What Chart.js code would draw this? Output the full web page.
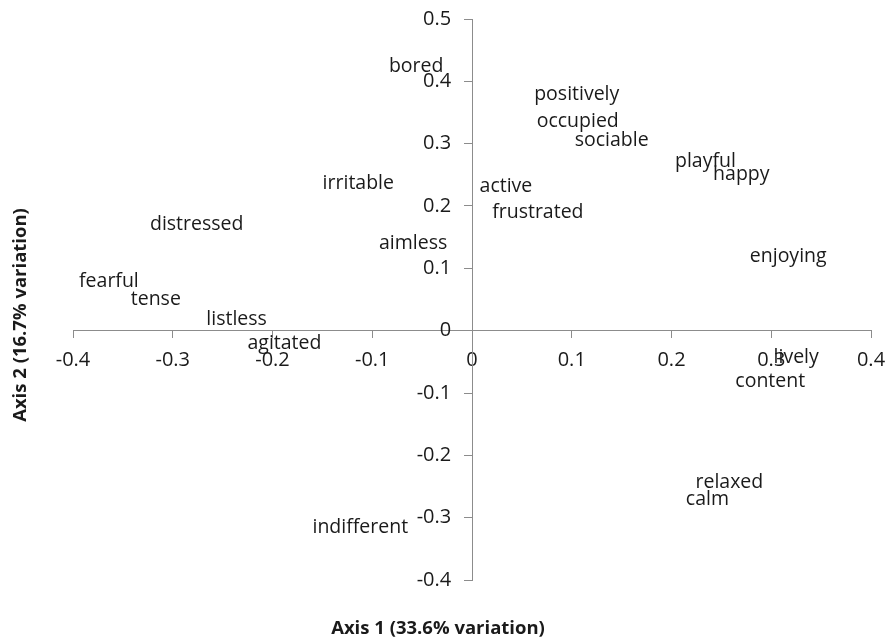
<!DOCTYPE html>
<html><head><meta charset="utf-8">
<script src="https://cdn.jsdelivr.net/npm/chart.js@4/dist/chart.umd.min.js"></script>
<style>html,body{margin:0;padding:0;background:#fff}#wrap{width:886px;height:639px;position:relative}</style>
</head><body><div id="wrap"><canvas id="c"></canvas></div>
<script>
const labels = ["bored","positively","occupied","sociable","playful","happy","irritable","active","frustrated","distressed","aimless","enjoying","fearful","tense","listless","agitated","lively","content","relaxed","calm","indifferent"];
const axis1 = [-0.056,0.105,0.106,0.140,0.234,0.270,-0.114,0.034,0.066,-0.276,-0.059,0.317,-0.364,-0.317,-0.236,-0.188,0.325,0.299,0.258,0.236,-0.112];
const axis2 = [0.424,0.379,0.335,0.305,0.271,0.250,0.236,0.231,0.189,0.170,0.140,0.119,0.079,0.050,0.018,-0.021,-0.043,-0.082,-0.244,-0.271,-0.315];
const xTitle = "Axis 1 (33.6% variation)";
const yTitle = "Axis 2 (16.7% variation)";
const FONT = "'Open Sans', sans-serif";
const TXT = '#1a1a1a', AX = '#8c8c8c';

const labelPlugin = {
  id: 'pointLabels',
  afterDatasetsDraw(chart) {
    const ctx = chart.ctx;
    const meta = chart.getDatasetMeta(0);
    ctx.save();
    ctx.font = "19.5px " + FONT;
    ctx.fillStyle = TXT;
    ctx.textAlign = 'center';
    ctx.textBaseline = 'middle';
    meta.data.forEach((el, i) => { ctx.fillText(labels[i], el.x, el.y); });
    ctx.restore();
  },
  afterDraw(chart) {
    const ctx = chart.ctx;
    ctx.save();
    ctx.font = "bold 18.5px " + FONT;
    ctx.fillStyle = TXT;
    ctx.textAlign = 'center';
    ctx.textBaseline = 'middle';
    ctx.fillText(xTitle, 438, 629);
    ctx.translate(21, 315);
    ctx.rotate(-Math.PI/2);
    ctx.fillText(yTitle, 0, 0);
    ctx.restore();
  }
};

const fmt = v => { const r = Math.round(v*10)/10; return r === 0 ? '0' : String(r); };

new Chart(document.getElementById('c'), {
  type: 'scatter',
  data: { datasets: [{ data: axis1.map((x,i)=>({x:x,y:axis2[i]})), pointRadius: 0, pointHoverRadius: 0 }] },
  options: {
    responsive: true, maintainAspectRatio: false, animation: false,
    layout: { padding: { left: 73, right: 15, top: 19, bottom: 59 } },
    plugins: { legend: { display: false }, tooltip: { enabled: false } },
    scales: {
      x: {
        type: 'linear', min: -0.4, max: 0.4, position: { y: 0 },
        afterFit: s => { s.paddingLeft = 0; s.paddingRight = 0; },
        ticks: { stepSize: 0.1, color: TXT, font: { family: FONT, size: 20 }, padding: 11, callback: fmt },
        grid: { display: true, drawOnChartArea: false, drawTicks: true, tickLength: 7, color: AX },
        border: { display: true, color: AX, width: 1 }
      },
      y: {
        type: 'linear', min: -0.4, max: 0.5, position: { x: 0 },
        afterFit: s => { s.paddingTop = 0; s.paddingBottom = 0; },
        ticks: { stepSize: 0.1, color: TXT, font: { family: FONT, size: 20 }, callback: v => fmt(v) + '    ' },
        grid: { display: true, drawOnChartArea: false, drawTicks: true, tickLength: 8, color: AX },
        border: { display: true, color: AX, width: 1 }
      }
    }
  },
  plugins: [labelPlugin]
});
</script></body></html>
